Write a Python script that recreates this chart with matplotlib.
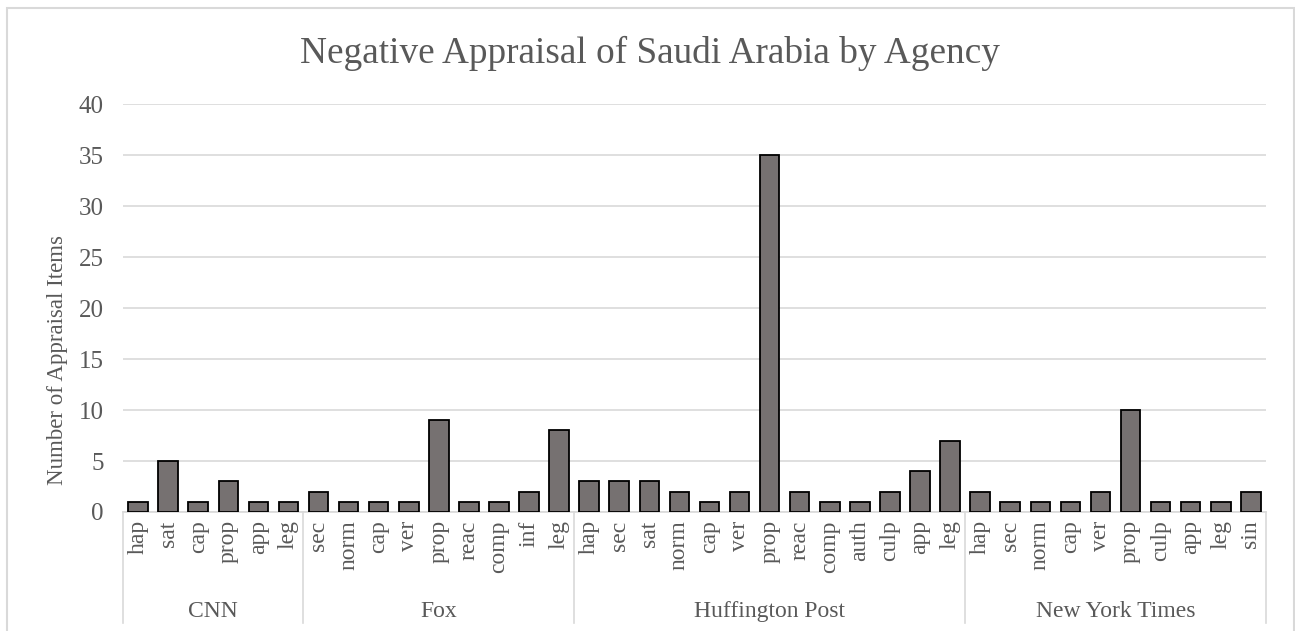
import numpy as np
import matplotlib.pyplot as plt
from matplotlib.patches import Rectangle
import matplotlib.transforms as mtransforms

plt.rcParams['font.family'] = ['Liberation Serif', 'DejaVu Serif']

# data
agencies = ['CNN', 'Fox', 'Huffington Post', 'New York Times']
cnn_cats = ['hap', 'sat', 'cap', 'prop', 'app', 'leg']
cnn_vals = [1, 5, 1, 3, 1, 1]
fox_cats = ['sec', 'norm', 'cap', 'ver', 'prop', 'reac', 'comp', 'inf', 'leg']
fox_vals = [2, 1, 1, 1, 9, 1, 1, 2, 8]
huff_cats = ['hap', 'sec', 'sat', 'norm', 'cap', 'ver', 'prop', 'reac', 'comp',
             'auth', 'culp', 'app', 'leg']
huff_vals = [3, 3, 3, 2, 1, 2, 35, 2, 1, 1, 2, 4, 7]
nyt_cats = ['hap', 'sec', 'norm', 'cap', 'ver', 'prop', 'culp', 'app', 'leg', 'sin']
nyt_vals = [2, 1, 1, 1, 2, 10, 1, 1, 1, 2]

groups = [(cnn_cats, cnn_vals), (fox_cats, fox_vals),
          (huff_cats, huff_vals), (nyt_cats, nyt_vals)]
labels = [c for cats, _ in groups for c in cats]
values = [v for _, vals in groups for v in vals]
x = np.arange(len(labels))

text_col = '#595959'
grid_col = '#d9d9d9'

fig = plt.figure(figsize=(12.95, 6.31), dpi=100)
ax = fig.add_axes([0.095, 0.1886, 0.8825, 0.6464])

ax.bar(x, values, width=0.65, color='#767171', edgecolor='black',
       linewidth=1.3, zorder=3)

ax.set_xlim(-0.5, len(labels) - 0.5)
ax.set_ylim(0, 40)
ax.set_yticks(np.arange(0, 41, 5))
ax.yaxis.grid(True, color=grid_col, linewidth=1.2, zorder=0)
for s in ['top', 'right', 'left']:
    ax.spines[s].set_visible(False)
ax.spines['bottom'].set_color(grid_col)
ax.spines['bottom'].set_linewidth(1.2)
ax.tick_params(axis='y', length=0, labelsize=18, labelcolor=text_col, pad=14)
ax.set_xticks(x)
ax.set_xticklabels(labels, rotation=90, fontsize=17, color=text_col)
ax.tick_params(axis='x', length=0, pad=6)

fig.text(57 / 1295, 1 - 360 / 631, 'Number of Appraisal Items', rotation=90,
         ha='center', va='center', fontsize=16.5, color=text_col)
fig.text(650 / 1295, 1 - 53 / 631, 'Negative Appraisal of Saudi Arabia by Agency',
         ha='center', va='center', fontsize=26.8, color=text_col)

# group separators and group labels
trans = mtransforms.blended_transform_factory(ax.transData, ax.transAxes)
start = 0
bounds = [-0.5]
for name, (cats, _) in zip(agencies, groups):
    end = start + len(cats)
    bounds.append(end - 0.5)
    ax.text((start + end - 1) / 2, -0.245, name, transform=trans, ha='center',
            va='center', fontsize=17, color=text_col)
    start = end
for b in bounds:
    ax.plot([b, b], [0, -0.272], transform=trans, color=grid_col,
            linewidth=1.2, clip_on=False)

# outer chart border
fig.patches.append(Rectangle((7 / 1295, -0.1), 1287 / 1295, 1.1 - 8 / 631,
                             transform=fig.transFigure, fill=False,
                             edgecolor=grid_col, linewidth=1.5))

fig.savefig('out.png', dpi=100)
